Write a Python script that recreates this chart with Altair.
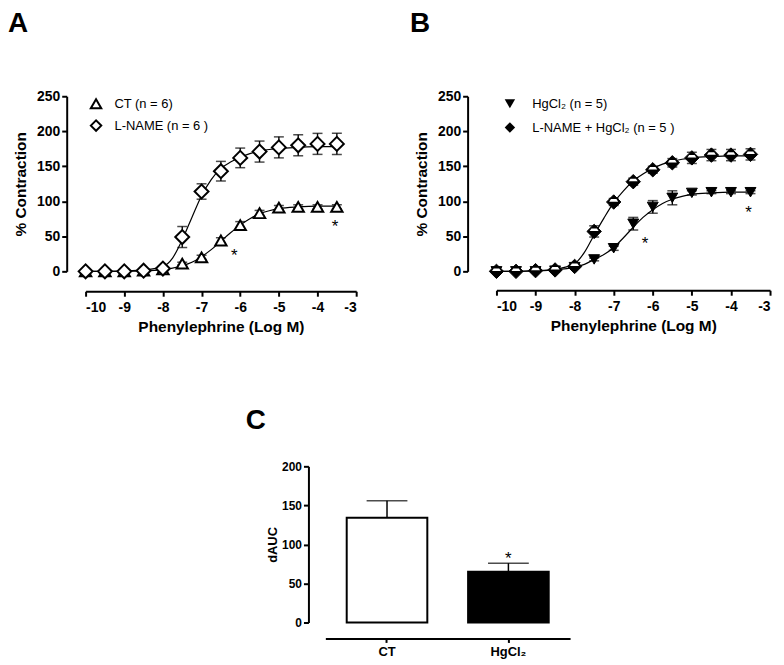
import altair as alt
import pandas as pd

FONT = "Liberation Sans"

# ---------------- data ----------------
x_log = [-10, -9.5, -9, -8.5, -8, -7.5, -7, -6.5, -6, -5.5, -5, -4.5, -4, -3.5]

ct_label = "CT (n = 6)"
ct_mean = [0, 0, 0, 1, 3, 11, 20, 44, 66, 83, 91, 92, 92, 92]
ct_sem = [0.5, 0.5, 0.5, 0.5, 1, 2, 3, 4, 5, 4, 3, 3, 3, 3]

lname_label = "L-NAME (n = 6 )"
lname_mean = [0, 0, 0, 1, 4, 49, 114, 143, 162, 171, 177, 180, 182, 182]
lname_sem = [1, 1, 1, 2, 3, 15, 11, 14, 14, 15, 15, 15, 15, 15]

hg_label = "HgCl\u2082 (n = 5)"
hg_mean = [0, 0, 0, 1, 6, 17, 33, 68, 92, 105, 112, 113, 113, 113]
hg_sem = [0.5, 0.5, 0.5, 0.5, 1, 2, 3, 9, 9, 10, 3, 2, 2, 2]

lnhg_label = "L-NAME + HgCl\u2082 (n = 5 )"
lnhg_mean = [0, 0, 1, 2, 7, 57, 99, 128, 145, 155, 162, 166, 166, 167]
lnhg_sem = [1, 1, 2, 3, 2, 8, 5, 5, 5, 6, 8, 8, 8, 8]

# fitted curves
curve_x = [-10, -9.5, -9, -8.5, -8, -7.75, -7.5, -7.25, -7, -6.75, -6.5,
           -6.25, -6, -5.75, -5.5, -5.25, -5, -4.5, -4, -3.5]
ct_curve = [0, 0, 0.2, 0.7, 2.5, 4.5, 8, 13, 21, 31, 43, 55, 66, 75, 82, 86.5, 89.5, 92, 93, 93]
lname_curve = [0, 0, 0.5, 2, 7, 19, 45, 77, 108, 131, 147, 156, 163, 168, 172, 174, 175.5, 177, 178, 178]
hg_curve = [0, 0, 0.5, 2, 6, 10, 17, 24, 34, 48, 63, 77, 88, 97, 103, 107, 110, 112, 113, 113]
lnhg_curve = [0, 0, 1, 3, 11, 27, 52, 76, 98, 115, 129, 139, 147, 153, 157, 160, 162, 164, 165, 165]

# significance marks
starsA_x = [-6.15, -3.55]
starsA_y = [29, 71]
starsB_x = [-6.2, -3.55]
starsB_y = [46, 91]

# panel C
c_groups = ["CT", "HgCl\u2082"]
c_values = [134, 65]
c_sem = [22, 11]
c_star_y = [88]

x_ticks = [-10, -9, -8, -7, -6, -5, -4, -3]
y_ticks = [0, 50, 100, 150, 200, 250]
c_ticks = [0, 50, 100, 150, 200]


def series(label, means, sems):
    return pd.DataFrame({
        "x": x_log,
        "mean": means,
        "lo": [m - s for m, s in zip(means, sems)],
        "hi": [m + s for m, s in zip(means, sems)],
        "group": label,
    })


def curve(label, ys):
    return pd.DataFrame({"x": curve_x, "y": ys, "group": label})


def dose_panel(labels, dfs, curves, shapes, sizes, filled, point_sw,
               legend_fill, width, y_off, x_off, letter, letter_dx,
               star_x, star_y, lx, ly, loff, rpad, band=None):
    xs = alt.Scale(domain=[-10, -3], nice=False, zero=False)
    ys = alt.Scale(domain=[0, 250], nice=False, zero=False)
    xax = alt.Axis(values=x_ticks, offset=x_off, labelExpr="datum.value + ''",
                   titlePadding=5, labelPadding=4)
    yax = alt.Axis(values=y_ticks, offset=y_off, labelExpr="datum.value + ''",
                   titlePadding=8)
    xt = "Phenylephrine (Log M)"
    yt = "% Contraction"

    all_df = pd.concat(dfs, ignore_index=True)
    curve_df = pd.concat(curves, ignore_index=True)

    X = lambda f: alt.X(f, scale=xs, axis=xax, title=xt)
    Y = lambda f: alt.Y(f, scale=ys, axis=yax, title=yt)

    lines = alt.Chart(curve_df).mark_line(color="black", strokeWidth=1.2,
                                          interpolate="monotone").encode(
        x=X("x:Q"), y=Y("y:Q"), detail="group:N",
    )
    rules = alt.Chart(all_df).mark_rule(color="black", strokeWidth=1.4).encode(
        x=X("x:Q"), y=Y("lo:Q"), y2="hi:Q",
    )
    cap_lo = alt.Chart(all_df).mark_tick(color="black", orient="horizontal",
                                         size=10, thickness=1.5).encode(
        x=X("x:Q"), y=Y("lo:Q"),
    )
    cap_hi = alt.Chart(all_df).mark_tick(color="black", orient="horizontal",
                                         size=10, thickness=1.5).encode(
        x=X("x:Q"), y=Y("hi:Q"),
    )
    shape_scale = alt.Scale(domain=labels, range=shapes)
    legend = alt.Legend(title=None, orient="none", legendX=lx, legendY=ly,
                        padding=0, symbolSize=110, labelOffset=loff,
                        rowPadding=rpad, labelFont=FONT, labelFontSize=13,
                        labelColor="black", symbolFillColor=legend_fill,
                        symbolStrokeColor="black", symbolStrokeWidth=2,
                        symbolOpacity=1)
    point_layers = []
    for df, size in zip(dfs, sizes):
        if filled:
            mk = alt.Chart(df).mark_point(filled=True, fill="black", stroke="black",
                                          strokeWidth=point_sw, opacity=1, size=size)
            enc = dict(shape=alt.Shape("group:N", scale=shape_scale, legend=legend))
        else:
            mk = alt.Chart(df).mark_point(filled=False, fill="white",
                                          strokeWidth=point_sw, opacity=1, size=size)
            enc = dict(
                shape=alt.Shape("group:N", scale=shape_scale, legend=legend),
                stroke=alt.Stroke("group:N", scale=alt.Scale(domain=labels,
                                  range=["black", "black"]), legend=legend),
            )
        point_layers.append(mk.encode(x=X("x:Q"), y=Y("mean:Q"), **enc))
    layers = [lines, rules, cap_lo, cap_hi] + point_layers
    if band is not None:
        bdf, bsize = band
        layers.append(
            alt.Chart(bdf).mark_point(
                filled=True, fill="white", strokeWidth=0, opacity=1, size=bsize,
                shape="M -0.38 -0.4 L 0.38 -0.4 L 0.62 -0.05 L -0.62 -0.05 Z").encode(
                x=X("x:Q"), y=Y("mean:Q"),
            )
        )
    star_df = pd.DataFrame({"x": star_x, "y": star_y})
    layers.append(
        alt.Chart(star_df).mark_text(text="*", font=FONT, fontSize=17,
                                     color="black", baseline="middle", dy=5).encode(
            x=X("x:Q"), y=Y("y:Q"),
        )
    )
    return alt.layer(*layers).properties(
        width=width, height=176,
        title=alt.TitleParams(letter, anchor="start", frame="group", dx=letter_dx,
                              offset=30, fontSize=28, font=FONT, fontWeight="bold",
                              baseline="alphabetic", color="black"),
    )


dfA = [series(ct_label, ct_mean, ct_sem), series(lname_label, lname_mean, lname_sem)]
cA = [curve(ct_label, ct_curve), curve(lname_label, lname_curve)]
panelA = dose_panel([ct_label, lname_label], dfA, cA, ["triangle-up", "diamond"],
                    [130, 196], False, 2, "white", 272, 19, 20, "A", -78,
                    starsA_x, starsA_y, 4, 1, 12, 3)

lnhg_df = series(lnhg_label, lnhg_mean, lnhg_sem)
dfB = [series(hg_label, hg_mean, hg_sem), lnhg_df]
cB = [curve(hg_label, hg_curve), curve(lnhg_label, lnhg_curve)]
panelB = dose_panel([hg_label, lnhg_label], dfB, cB, ["triangle-down", "diamond"],
                    [120, 210], True, 1, "black", 275, 29, 19, "B", -87,
                    starsB_x, starsB_y, 7, 1, 16, 5, band=(lnhg_df, 210))

# ---------------- panel C ----------------
c_df = pd.DataFrame({
    "g": c_groups,
    "v": c_values,
    "hi": [v + s for v, s in zip(c_values, c_sem)],
})
cxs = alt.Scale(domain=c_groups, paddingInner=0.336, paddingOuter=0.176)
cys = alt.Scale(domain=[0, 200], nice=False, zero=True)
cxax = alt.Axis(title=None, labelAngle=0, offset=16, labelFontSize=13,
                tickSize=4, labelPadding=3)
cyax = alt.Axis(values=c_ticks, offset=17, labelFontSize=12, titleFontSize=13,
                titlePadding=2)

CX = lambda f: alt.X(f, scale=cxs, axis=cxax, sort=None)
CY = lambda f: alt.Y(f, scale=cys, axis=cyax, title="dAUC")

bars = alt.Chart(c_df).mark_bar(stroke="black", strokeWidth=2).encode(
    x=CX("g:N"), y=CY("v:Q"),
    fill=alt.Fill("g:N", scale=alt.Scale(domain=c_groups, range=["white", "black"]),
                  legend=None),
)
c_rule = alt.Chart(c_df).mark_rule(color="black", strokeWidth=1.5).encode(
    x=CX("g:N"), y=CY("v:Q"), y2="hi:Q",
)
c_cap = alt.Chart(c_df).mark_tick(color="black", orient="horizontal", size=41,
                                  thickness=1.5).encode(
    x=CX("g:N"), y=CY("hi:Q"),
)
c_star = alt.Chart(pd.DataFrame({"g": [c_groups[1]], "y": c_star_y})).mark_text(
    text="*", font=FONT, fontSize=17, color="black", baseline="middle", dy=5).encode(
    x=CX("g:N"), y=CY("y:Q"),
)
panelC = alt.layer(bars, c_rule, c_cap, c_star).properties(
    width=246, height=157,
    title=alt.TitleParams("C", anchor="start", frame="group", dx=-80, offset=4,
                          fontSize=28, font=FONT, fontWeight="bold",
                          baseline="alphabetic", color="black"),
)

spacer = alt.Chart(pd.DataFrame({"s": [0]})).mark_point(
    opacity=0, size=1, strokeWidth=0).encode(
    x=alt.X("s:Q", axis=None, scale=alt.Scale(domain=[0, 1])),
    y=alt.Y("s:Q", axis=None, scale=alt.Scale(domain=[0, 1])),
).properties(width=100, height=157)

row1 = alt.hconcat(panelA, panelB, spacing=141, bounds="flush").resolve_scale(
    shape="independent", stroke="independent").resolve_legend(
    shape="independent", stroke="independent")
row2 = alt.hconcat(spacer, panelC, spacing=141, bounds="flush")

chart = alt.vconcat(row1, row2, spacing=72).resolve_scale(
    shape="independent", stroke="independent").resolve_legend(
    shape="independent", stroke="independent").properties(
    padding={"left": 0, "top": 0, "right": 5, "bottom": 5}
).configure_view(stroke=None).configure_axis(
    labelFont=FONT, labelFontWeight="bold", labelFontSize=14, labelColor="black",
    titleFont=FONT, titleFontWeight="bold", titleFontSize=15.5, titleColor="black",
    domainColor="black", domainWidth=2, tickColor="black", tickWidth=2,
    tickSize=5, grid=False, labelPadding=2,
)

chart.save("out.html", embed_options={"renderer": "svg", "actions": False})
